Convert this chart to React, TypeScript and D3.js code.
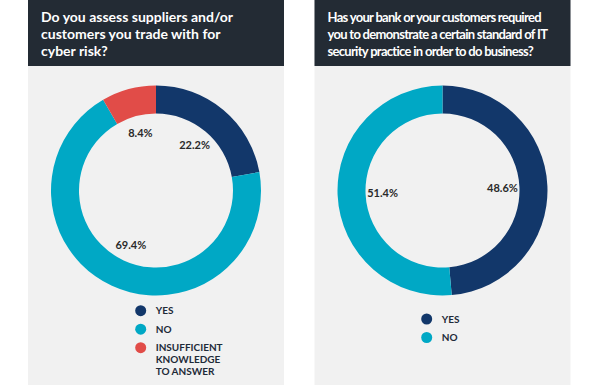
import React from "react";
import * as d3 from "d3";

// left chart: supplier / customer assessment
const leftCategories = ["YES", "NO", "INSUFFICIENT KNOWLEDGE TO ANSWER"];
const leftValues = [22.2, 69.4, 8.4];
const leftTitle = ["Do you assess suppliers and/or", "customers you trade with for", "cyber risk?"];

// right chart: bank / customer IT standards
const rightCategories = ["YES", "NO"];
const rightValues = [48.6, 51.4];
const rightTitle = [
  "Has your bank or your customers required",
  "you to demonstrate a certain standard of IT",
  "security practice in order to do business?",
];

const colors: Record<string, string> = {
  YES: "#12376a",
  NO: "#00a8c5",
  "INSUFFICIENT KNOWLEDGE TO ANSWER": "#e14c48",
};

const W = 600;
const H = 385;
const headerH = 66;
const outerR = 105;
const innerR = 77;
const labelR = 60;

type PanelProps = {
  x: number;
  width: number;
  title: string[];
  categories: string[];
  values: number[];
  legendX: number;
  legendY: number;
  titleSize: number;
  titleSpacing: number;
};

const Panel = ({ x, width, title, categories, values, legendX, legendY, titleSize, titleSpacing }: PanelProps) => {
  const cx = x + 128;
  const cy = 190.5;
  const pie = d3
    .pie<number>()
    .sort(null)
    .value((d) => d);
  const arcs = pie(values);
  const arc = d3.arc<d3.PieArcDatum<number>>().innerRadius(innerR).outerRadius(outerR);
  const labelArc = d3.arc<d3.PieArcDatum<number>>().innerRadius(labelR).outerRadius(labelR);

  let ly = legendY;
  return (
    <g>
      <rect x={x} y={0} width={width} height={H} fill="#f1f1f1" />
      <rect x={x} y={0} width={width} height={headerH} fill="#232b34" />
      <text
        x={x + 13}
        y={22}
        fill="#ffffff"
        fontFamily="Lato, sans-serif"
        fontWeight={700}
        fontSize={titleSize}
        letterSpacing={titleSpacing}
      >
        {title.map((t, i) => (
          <tspan key={i} x={x + 13} dy={i === 0 ? 0 : 17}>
            {t}
          </tspan>
        ))}
      </text>
      <g transform={`translate(${cx},${cy})`}>
        {arcs.map((a, i) => (
          <path key={i} d={arc(a) || ""} fill={colors[categories[i]]} />
        ))}
        {arcs.map((a, i) => {
          const [lx, lyy] = labelArc.centroid(a);
          return (
            <text
              key={"l" + i}
              x={lx}
              y={lyy + 4}
              textAnchor="middle"
              fontFamily="Lato, sans-serif"
              fontWeight={700}
              fontSize={11}
              fill="#2a2a2a"
            >
              {d3.format(".1f")(values[i])}%
            </text>
          );
        })}
      </g>
      {categories.map((c, i) => {
        const words = c.split(" ");
        const lines: string[] = [];
        if (words.length > 2) {
          lines.push(words[0], words[1], words.slice(2).join(" "));
        } else {
          lines.push(c);
        }
        const y0 = ly;
        ly += 18.5;
        return (
          <g key={"lg" + i}>
            <circle cx={legendX} cy={y0} r={5.5} fill={colors[c]} />
            <text
              x={legendX + 15}
              y={y0 + 3.5}
              fontFamily="Lato, sans-serif"
              fontWeight={700}
              fontSize={10}
              fill="#1e2a38"
            >
              {lines.map((l, j) => (
                <tspan key={j} x={legendX + 15} dy={j === 0 ? 0 : 11.7}>
                  {l}
                </tspan>
              ))}
            </text>
          </g>
        );
      })}
    </g>
  );
};

const App = () => {
  return (
    <div style={{ position: "fixed", left: 0, top: 0 }}>
      <svg width={W} height={H} style={{ display: "block" }}>
        <rect width={W} height={H} fill="#ffffff" />
        <Panel
          x={28}
          width={256}
          title={leftTitle}
          categories={leftCategories}
          values={leftValues}
          legendX={140.7}
          legendY={310.7}
          titleSize={14}
          titleSpacing={0}
        />
        <Panel
          x={314.5}
          width={256}
          title={rightTitle}
          categories={rightCategories}
          values={rightValues}
          legendX={426.7}
          legendY={319}
          titleSize={13}
          titleSpacing={-0.7}
        />
      </svg>
    </div>
  );
};

export default App;
